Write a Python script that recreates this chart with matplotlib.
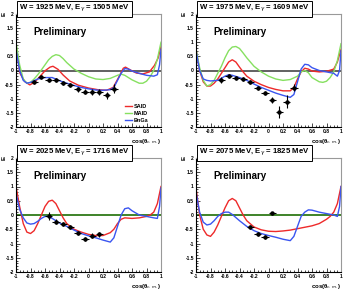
import matplotlib
matplotlib.use("Agg")
import matplotlib.pyplot as plt
from matplotlib.ticker import MultipleLocator

plt.rcParams['font.family'] = ['Liberation Sans', 'DejaVu Sans']

# ---------------- data ----------------
titles = ["W = 1925 MeV, E$_{\\gamma}$ = 1505 MeV",
          "W = 1975 MeV, E$_{\\gamma}$ = 1609 MeV",
          "W = 2025 MeV, E$_{\\gamma}$ = 1716 MeV",
          "W = 2075 MeV, E$_{\\gamma}$ = 1825 MeV"]

# measured points
p1_x = [-0.75, -0.65, -0.55, -0.45, -0.35, -0.25, -0.15, -0.05, 0.05, 0.15, 0.25, 0.35]
p1_y = [-0.40, -0.24, -0.34, -0.34, -0.43, -0.51, -0.67, -0.75, -0.76, -0.76, -0.88, -0.64]
p1_e = [0.07, 0.07, 0.07, 0.07, 0.07, 0.07, 0.08, 0.08, 0.09, 0.10, 0.13, 0.15]

p2_x = [-0.65, -0.55, -0.45, -0.35, -0.25, -0.15, -0.05, 0.05, 0.15, 0.25, 0.35]
p2_y = [-0.34, -0.20, -0.25, -0.31, -0.40, -0.63, -0.79, -1.05, -1.47, -1.10, -0.61]
p2_e = [0.10, 0.08, 0.07, 0.07, 0.07, 0.07, 0.08, 0.10, 0.22, 0.23, 0.12]

p3_x = [-0.55, -0.45, -0.35, -0.25, -0.15, -0.05, 0.05, 0.15]
p3_y = [-0.03, -0.23, -0.32, -0.42, -0.63, -0.84, -0.72, -0.68]
p3_e = [0.15, 0.09, 0.07, 0.07, 0.07, 0.08, 0.08, 0.10]

p4_x = [-0.25, -0.15, -0.05, 0.05]
p4_y = [-0.41, -0.65, -0.77, 0.06]
p4_e = [0.07, 0.07, 0.08, 0.05]

# model curves: SAID (red), MAID (green), BnGa (blue)
said1_x = [-1, -0.945, -0.88, -0.81, -0.74, -0.67, -0.6, -0.53, -0.49, -0.42, -0.35, -0.26,
           -0.14, 0, 0.13, 0.25, 0.34, 0.41, 0.48, 0.51, 0.57, 0.66, 0.75, 0.84, 0.91, 0.96, 1]
said1_y = [0.85, -0.1, -0.39, -0.51, -0.41, -0.21, -0.01, 0.12, 0.15, 0.04, -0.16, -0.37,
           -0.52, -0.62, -0.68, -0.70, -0.60, -0.27, 0.08, 0.12, 0.03, -0.09, -0.12, -0.05, 0.18, 0.44, 0.85]

maid1_x = [-1, -0.95, -0.9, -0.85, -0.8, -0.75, -0.7, -0.65, -0.6, -0.55, -0.5, -0.45, -0.4,
           -0.35, -0.3, -0.2, -0.1, 0, 0.1, 0.2, 0.3, 0.4, 0.45, 0.5, 0.6, 0.7, 0.75, 0.8,
           0.85, 0.9, 0.95, 1]
maid1_y = [1.0, 0.2, -0.3, -0.45, -0.42, -0.3, -0.15, 0.02, 0.2, 0.38, 0.5, 0.56, 0.53,
           0.42, 0.28, 0.05, -0.1, -0.22, -0.3, -0.32, -0.28, -0.17, -0.13, -0.17, -0.33,
           -0.45, -0.45, -0.38, -0.22, 0.0, 0.4, 1.0]

bnga1_x = [-1, -0.95, -0.9, -0.85, -0.8, -0.7, -0.6, -0.5, -0.4, -0.3, -0.2, -0.1, 0, 0.1,
           0.2, 0.3, 0.35, 0.4, 0.45, 0.5, 0.55, 0.6, 0.7, 0.8, 0.9, 0.95, 0.98, 1]
bnga1_y = [0.75, 0.0, -0.35, -0.45, -0.42, -0.3, -0.25, -0.25, -0.36, -0.45, -0.53, -0.6,
           -0.65, -0.69, -0.70, -0.68, -0.6, -0.35, -0.1, 0.07, 0.05, -0.02, -0.1, -0.17,
           -0.2, -0.15, 0.2, 0.75]

said2_x = [-1, -0.95, -0.9, -0.85, -0.8, -0.75, -0.7, -0.65, -0.6, -0.55, -0.5, -0.45, -0.4,
           -0.35, -0.3, -0.2, -0.1, 0, 0.1, 0.2, 0.3, 0.35, 0.4, 0.45, 0.5, 0.55, 0.6, 0.7,
           0.8, 0.9, 0.95, 1]
said2_y = [0.75, 0.0, -0.4, -0.55, -0.55, -0.45, -0.3, -0.1, 0.1, 0.3, 0.38, 0.3, 0.12,
           -0.05, -0.2, -0.38, -0.5, -0.6, -0.67, -0.72, -0.72, -0.6, -0.3, -0.05, 0.08,
           0.05, -0.02, -0.05, -0.03, 0.05, 0.3, 0.75]

maid2_x = [-1, -0.95, -0.9, -0.85, -0.8, -0.75, -0.7, -0.65, -0.6, -0.55, -0.5, -0.45, -0.4,
           -0.35, -0.3, -0.2, -0.1, 0, 0.1, 0.2, 0.3, 0.4, 0.45, 0.5, 0.55, 0.6, 0.7, 0.75,
           0.8, 0.85, 0.9, 0.95, 1]
maid2_y = [0.75, 0.1, -0.35, -0.55, -0.5, -0.35, -0.1, 0.15, 0.45, 0.7, 0.83, 0.85, 0.78,
           0.62, 0.45, 0.15, -0.05, -0.2, -0.3, -0.35, -0.32, -0.2, -0.05, 0.0, -0.08,
           -0.25, -0.4, -0.42, -0.38, -0.25, -0.05, 0.35, 0.95]

bnga2_x = [-1, -0.95, -0.9, -0.85, -0.8, -0.7, -0.6, -0.55, -0.5, -0.4, -0.3, -0.2, -0.1,
           0, 0.1, 0.2, 0.3, 0.35, 0.4, 0.45, 0.5, 0.55, 0.6, 0.7, 0.8, 0.9, 0.95, 0.98, 1]
bnga2_y = [0.7, 0.0, -0.3, -0.35, -0.37, -0.35, -0.2, -0.15, -0.17, -0.25, -0.35, -0.48,
           -0.6, -0.7, -0.8, -0.88, -0.95, -0.85, -0.4, 0.05, 0.22, 0.2, 0.1, 0.0, -0.05,
           -0.1, -0.2, 0.0, 0.7]

said3_x = [-1, -0.95, -0.9, -0.85, -0.8, -0.75, -0.7, -0.65, -0.6, -0.55, -0.5, -0.45, -0.4,
           -0.35, -0.3, -0.2, -0.1, 0, 0.1, 0.2, 0.3, 0.35, 0.4, 0.45, 0.5, 0.6, 0.7, 0.8,
           0.85, 0.9, 0.95, 1]
said3_y = [1.0, 0.3, -0.3, -0.6, -0.65, -0.55, -0.3, 0.0, 0.3, 0.48, 0.52, 0.4, 0.15,
           -0.1, -0.3, -0.5, -0.6, -0.68, -0.72, -0.72, -0.62, -0.5, -0.3, -0.15, -0.1,
           -0.12, -0.1, -0.05, 0.0, 0.1, 0.4, 1.0]

bnga3_x = [-1, -0.95, -0.9, -0.85, -0.8, -0.75, -0.7, -0.65, -0.6, -0.55, -0.5, -0.4, -0.3,
           -0.2, -0.1, 0, 0.1, 0.2, 0.3, 0.35, 0.4, 0.45, 0.5, 0.55, 0.6, 0.7, 0.8, 0.9,
           0.95, 0.98, 1]
bnga3_y = [0.75, 0.2, -0.1, -0.28, -0.32, -0.3, -0.22, -0.12, -0.05, -0.05, -0.12, -0.28,
           -0.4, -0.53, -0.65, -0.73, -0.8, -0.88, -0.95, -0.8, -0.4, 0.0, 0.22, 0.25, 0.15,
           0.0, -0.05, -0.1, -0.12, 0.3, 0.95]

said4_x = [-1, -0.95, -0.9, -0.85, -0.8, -0.75, -0.7, -0.65, -0.6, -0.55, -0.5, -0.45, -0.4,
           -0.35, -0.3, -0.2, -0.1, 0, 0.1, 0.2, 0.3, 0.4, 0.5, 0.6, 0.7, 0.8, 0.85, 0.9,
           0.95, 1]
said4_y = [0.95, 0.0, -0.5, -0.7, -0.75, -0.6, -0.35, -0.05, 0.25, 0.5, 0.58, 0.5, 0.25,
           0.0, -0.2, -0.42, -0.52, -0.57, -0.58, -0.56, -0.53, -0.48, -0.43, -0.38, -0.3,
           -0.15, -0.05, 0.1, 0.4, 1.0]

bnga4_x = [-1, -0.95, -0.9, -0.85, -0.8, -0.75, -0.7, -0.65, -0.6, -0.55, -0.5, -0.4, -0.3,
           -0.2, -0.1, 0, 0.1, 0.2, 0.3, 0.35, 0.4, 0.45, 0.5, 0.55, 0.6, 0.7, 0.8, 0.9,
           0.95, 0.98, 1]
bnga4_y = [0.8, 0.1, -0.25, -0.35, -0.32, -0.2, -0.05, 0.05, 0.1, 0.1, 0.02, -0.2, -0.4,
           -0.55, -0.65, -0.72, -0.78, -0.85, -0.9, -0.75, -0.4, -0.05, 0.1, 0.18, 0.17,
           0.1, 0.05, 0.0, -0.05, 0.3, 1.0]

x_ticks = [-1, -0.8, -0.6, -0.4, -0.2, 0, 0.2, 0.4, 0.6, 0.8, 1]
x_labels = ["-1", "-0.8", "-0.6", "-0.4", "-0.2", "0", "0.2", "0.4", "0.6", "0.8", "1"]
y_ticks = [-2, -1.5, -1, -0.5, 0, 0.5, 1, 1.5, 2]
y_labels = ["-2", "-1.5", "-1", "-0.5", "0", "0.5", "1", "1.5", "2"]

RED = '#ee2a2a'
GREEN = '#86e060'
BLUE = '#3a55f0'

W, H = 346, 291
fig = plt.figure(figsize=(W / 100, H / 100), dpi=100)

def ax_at(l, r, t, b):
    return fig.add_axes([l / W, 1 - b / H, (r - l) / W, (b - t) / H])

axes = [ax_at(16, 161, 14, 127), ax_at(196, 341, 14, 127),
        ax_at(16, 161, 158, 272), ax_at(196, 341, 158, 272)]

panels = [
    (p1_x, p1_y, p1_e, [(said1_x, said1_y, RED, 'SAID'), (maid1_x, maid1_y, GREEN, 'MAID'),
                        (bnga1_x, bnga1_y, BLUE, 'BnGa')], '#555555'),
    (p2_x, p2_y, p2_e, [(said2_x, said2_y, RED, 'SAID'), (maid2_x, maid2_y, GREEN, 'MAID'),
                        (bnga2_x, bnga2_y, BLUE, 'BnGa')], '#555555'),
    (p3_x, p3_y, p3_e, [(said3_x, said3_y, RED, 'SAID'), (bnga3_x, bnga3_y, BLUE, 'BnGa')], '#2f7a18'),
    (p4_x, p4_y, p4_e, [(said4_x, said4_y, RED, 'SAID'), (bnga4_x, bnga4_y, BLUE, 'BnGa')], '#2f7a18'),
]

for i, (ax, (px, py, pe, curves, zcol)) in enumerate(zip(axes, panels)):
    ax.set_xlim(-1, 1)
    ax.set_ylim(-2, 2)
    ax.axhline(0, color=zcol, lw=1.3, zorder=1)
    for cx, cy, col, lab in curves:
        ax.plot(cx, cy, color=col, lw=1.0, label=lab, zorder=2)
    ax.errorbar(px, py, xerr=0.05, yerr=pe, fmt='o', ms=2.2, color='black',
                ecolor='black', elinewidth=0.8, capsize=0, zorder=3)
    ax.set_xticks(x_ticks)
    ax.set_xticklabels(x_labels)
    ax.set_yticks(y_ticks)
    ax.set_yticklabels(y_labels)
    ax.xaxis.set_minor_locator(MultipleLocator(0.05))
    ax.yaxis.set_minor_locator(MultipleLocator(0.1))
    ax.tick_params(which='both', direction='in', top=False, right=False,
                   labelsize=3.6, width=0.5, pad=1.5)
    ax.tick_params(which='major', length=3)
    ax.tick_params(which='minor', length=1.5)
    for lab in ax.get_xticklabels() + ax.get_yticklabels():
        lab.set_fontweight('bold')
    ax.spines['left'].set_color('black')
    ax.spines['bottom'].set_color('black')
    ax.spines['top'].set_color('#999999')
    ax.spines['right'].set_color('#999999')
    for s in ax.spines.values():
        s.set_linewidth(0.8)
    ax.text(0.12, 0.84, 'Preliminary', transform=ax.transAxes, fontsize=7,
            fontweight='bold', ha='left', va='center')
    ax.text(1.0, -0.085, 'cos(θ$_{c.m.}$)', transform=ax.transAxes, fontsize=4.3,
            fontweight='bold', ha='right', va='top')
    ax.text(-0.085, 1.0, 'E', transform=ax.transAxes, fontsize=4.5, rotation=90,
            fontweight='bold', ha='center', va='center')
    ax.text(0.02, 1.045, titles[i], transform=ax.transAxes, fontsize=5.6,
            fontweight='bold', ha='left', va='center',
            bbox=dict(boxstyle='square,pad=0.3', fc='white', ec='black', lw=0.7))
    if i == 0:
        ax.legend(loc='lower left', bbox_to_anchor=(0.72, 0.0), frameon=False,
                  fontsize=4, handlelength=1.3, handletextpad=0.3, labelspacing=0.35,
                  borderpad=0.3, prop={'weight': 'bold', 'size': 4})

fig.savefig('out.png', dpi=100)
